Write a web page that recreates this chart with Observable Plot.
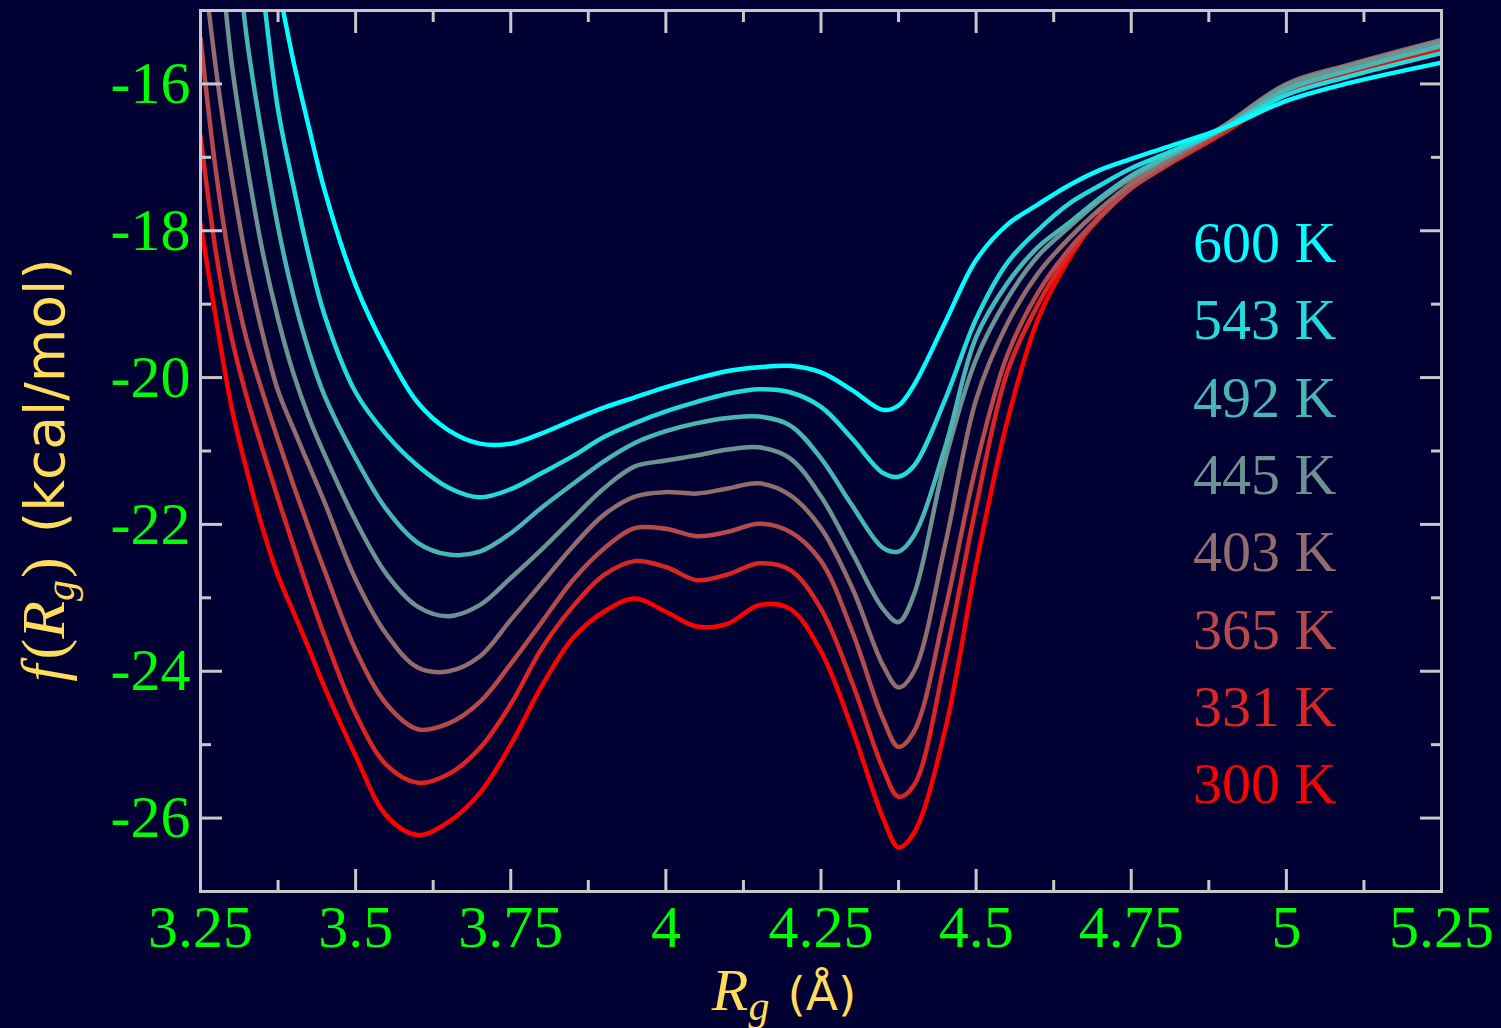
<!DOCTYPE html>
<html><head><meta charset="utf-8">
<script src="https://cdn.jsdelivr.net/npm/d3@7"></script>
<script src="https://cdn.jsdelivr.net/npm/@observablehq/plot@0.6"></script>
<style>
html,body{margin:0;padding:0;background:#000033;overflow:hidden;}
</style></head><body><div id="chart"></div>
<script>
// Radius of gyration grid (Å)
const rg = [3.25, 3.275, 3.3, 3.325, 3.35, 3.375, 3.4, 3.425, 3.45, 3.5, 3.55, 3.6, 3.65, 3.7, 3.75, 3.8, 3.85, 3.9, 3.95, 4.0, 4.05, 4.1, 4.15, 4.2, 4.25, 4.3, 4.35, 4.375, 4.4, 4.45, 4.5, 4.55, 4.6, 4.65, 4.7, 4.75, 4.8, 4.9, 5.0, 5.1, 5.25];
const temps = [300, 331, 365, 403, 445, 492, 543, 600];
// Free energy f(Rg) in kcal/mol per temperature
const f300 = [-17.9, -19.2, -20.4, -21.28, -22.05, -22.7, -23.2, -23.7, -24.22, -25.15, -25.97, -26.23, -26.05, -25.66, -25.0, -24.2, -23.55, -23.19, -23.01, -23.19, -23.39, -23.35, -23.1, -23.15, -23.73, -24.78, -26.0, -26.4, -26.2, -24.8, -22.55, -20.6, -19.2, -18.38, -17.78, -17.35, -17.08, -16.66, -16.14, -15.86, -15.55];
const f331 = [-16.71, -18.3, -19.45, -20.28, -20.98, -21.65, -22.3, -22.93, -23.52, -24.58, -25.28, -25.52, -25.4, -25.05, -24.45, -23.69, -23.12, -22.69, -22.5, -22.58, -22.76, -22.68, -22.53, -22.62, -23.15, -24.15, -25.33, -25.71, -25.55, -23.85, -21.75, -19.93, -19.0, -18.32, -17.82, -17.42, -17.15, -16.66, -16.1, -15.82, -15.5];
const f365 = [-15.37, -17.2, -18.55, -19.5, -20.2, -20.85, -21.47, -22.06, -22.63, -23.71, -24.45, -24.79, -24.71, -24.42, -23.9, -23.33, -22.76, -22.33, -22.05, -22.06, -22.16, -22.1, -21.99, -22.1, -22.5, -23.45, -24.65, -25.03, -24.82, -23.17, -21.2, -19.7, -18.84, -18.25, -17.8, -17.42, -17.14, -16.62, -16.05, -15.78, -15.45];
const f403 = [-14.0, -15.8, -17.25, -18.45, -19.4, -20.18, -20.7, -21.2, -21.7, -22.75, -23.5, -23.95, -24.0, -23.8, -23.3, -22.8, -22.3, -21.87, -21.62, -21.56, -21.58, -21.51, -21.44, -21.6, -22.05, -22.86, -23.92, -24.22, -24.0, -22.28, -20.3, -19.27, -18.58, -18.1, -17.7, -17.36, -17.1, -16.57, -16.0, -15.74, -15.4];
const f445 = [-11.5, -13.6, -15.7, -17.1, -18.28, -19.2, -19.95, -20.55, -21.05, -21.95, -22.68, -23.12, -23.25, -23.1, -22.73, -22.34, -21.92, -21.51, -21.21, -21.13, -21.06, -20.98, -20.95, -21.1, -21.62, -22.38, -23.15, -23.33, -22.95, -21.13, -19.75, -18.93, -18.34, -17.95, -17.58, -17.28, -17.04, -16.57, -16.02, -15.76, -15.42];
const f492 = [-10.5, -12.0, -13.5, -15.4, -16.75, -17.95, -18.9, -19.65, -20.25, -21.1, -21.8, -22.25, -22.41, -22.37, -22.12, -21.77, -21.45, -21.14, -20.89, -20.73, -20.62, -20.55, -20.53, -20.65, -21.1, -21.74, -22.32, -22.37, -22.15, -20.95, -19.45, -18.72, -18.22, -17.89, -17.55, -17.25, -17.02, -16.6, -16.08, -15.82, -15.48];
const f543 = [-8.5, -10.0, -11.5, -13.0, -14.7, -16.35, -17.4, -18.35, -19.15, -20.2, -20.78, -21.2, -21.5, -21.63, -21.52, -21.3, -21.07, -20.81, -20.62, -20.46, -20.33, -20.22, -20.16, -20.2, -20.4, -20.83, -21.3, -21.35, -21.2, -20.3, -19.2, -18.44, -17.99, -17.63, -17.38, -17.15, -16.97, -16.6, -16.15, -15.9, -15.58];
const f600 = [-9.2, -10.3, -11.4, -12.5, -13.6, -14.65, -15.7, -16.6, -17.45, -18.74, -19.64, -20.34, -20.72, -20.9, -20.9, -20.76, -20.58, -20.41, -20.27, -20.13, -20.01, -19.91, -19.86, -19.84, -19.93, -20.17, -20.44, -20.38, -20.1, -19.25, -18.4, -17.92, -17.64, -17.38, -17.17, -17.02, -16.88, -16.6, -16.23, -15.99, -15.71];
const series = [f300, f331, f365, f403, f445, f492, f543, f600];

const tickMajorX = [3.25, 3.5, 3.75, 4, 4.25, 4.5, 4.75, 5, 5.25];
const tickMinorX = [3.375, 3.625, 3.875, 4.125, 4.375, 4.625, 4.875, 5.125];
const tickMajorY = [-26, -24, -22, -20, -18, -16];
const tickMinorY = [-25, -23, -21, -19, -17];
const legendLabels = temps.map(t => `${t} K`);

const colors = temps.map((t, i) => d3.interpolateRgb("#ff0000", "#00ffff")(i / (temps.length - 1)));
const frameColor = "#c8c8c8";
const labelColor = "#00ff00";
const titleColor = "#ffdc5a";

const table = temps.flatMap((T, i) => rg.map((x, j) => ({x, y: series[i][j], T})));

const tickOpts = {stroke: frameColor, strokeWidth: 3, tickFormat: () => "", label: null};
function tickAxes(ticksX, ticksY, size) {
  return [
    Plot.axisX(ticksX, {...tickOpts, anchor: "bottom", tickSize: size, dy: -size}),
    Plot.axisX(ticksX, {...tickOpts, anchor: "top", tickSize: size, dy: size}),
    Plot.axisY(ticksY, {...tickOpts, anchor: "left", tickSize: size, dx: size}),
    Plot.axisY(ticksY, {...tickOpts, anchor: "right", tickSize: size, dx: -size})
  ];
}

const lines = temps.map((T, i) => Plot.line(table.filter(d => d.T === T), {
  x: "x", y: "y", stroke: colors[i], strokeWidth: 4.5, curve: "catmull-rom", clip: true
}));

const legend = temps.map((T, i) => Plot.text([legendLabels[i]], {
  text: d => d, frameAnchor: "top-right", textAnchor: "end", lineAnchor: "middle",
  dx: -105, dy: 233 + (temps.length - 1 - i) * 77.3,
  fill: colors[i], fontSize: 58, fontFamily: "Liberation Serif"
}));

const plot = Plot.plot({
  width: 1501, height: 1028,
  marginLeft: 200, marginRight: 60, marginTop: 10, marginBottom: 137,
  style: {background: "#000033", fontFamily: "Liberation Serif"},
  x: {domain: [3.25, 5.25], label: null},
  y: {domain: [-27, -15], label: null},
  marks: [
    ...lines,
    ...legend,
    ...tickAxes(tickMajorX, tickMajorY, 22),
    ...tickAxes(tickMinorX, tickMinorY, 11),
    Plot.axisX(tickMajorX, {anchor: "bottom", tickSize: 0, tickPadding: 13, tickFormat: d => String(d), fill: labelColor, fontSize: 60, fontFamily: "Liberation Serif", label: null}),
    Plot.axisY(tickMajorY, {anchor: "left", tickSize: 0, tickPadding: 10, tickFormat: d => String(d), fill: labelColor, fontSize: 60, fontFamily: "Liberation Serif", label: null}),
    Plot.frame({stroke: frameColor, strokeWidth: 3})
  ]
});
document.getElementById("chart").appendChild(plot);

const svg = d3.select(plot);
// y title
const yt = svg.append("text")
  .attr("transform", "translate(64,470) rotate(-90)")
  .attr("text-anchor", "middle").attr("fill", titleColor).attr("font-size", 62);
yt.append("tspan").attr("font-family", "Liberation Serif").attr("font-style", "italic").text("f");
yt.append("tspan").attr("font-family", "Liberation Serif").attr("dx", 5).text("(");
yt.append("tspan").attr("font-family", "Liberation Serif").attr("font-style", "italic").text("R");
yt.append("tspan").attr("font-family", "Liberation Serif").attr("font-style", "italic").attr("font-size", 42).attr("dy", 10).text("g");
yt.append("tspan").attr("font-family", "Liberation Serif").attr("dy", -10).attr("dx", 2).text(")");
yt.append("tspan").attr("font-family", "DejaVu Sans").attr("font-size", 55).attr("dx", 24).text("(kcal/mol)");
// x title
const xt = svg.append("text")
  .attr("x", 784).attr("y", 1010)
  .attr("text-anchor", "middle").attr("fill", titleColor).attr("font-size", 60);
xt.append("tspan").attr("font-family", "Liberation Serif").attr("font-style", "italic").text("R");
xt.append("tspan").attr("font-family", "Liberation Serif").attr("font-style", "italic").attr("font-size", 42).attr("dy", 10).text("g");
xt.append("tspan").attr("font-family", "DejaVu Sans").attr("font-size", 47).attr("dy", -10).attr("dx", 18).text("(Å)");
</script>
</body></html>
